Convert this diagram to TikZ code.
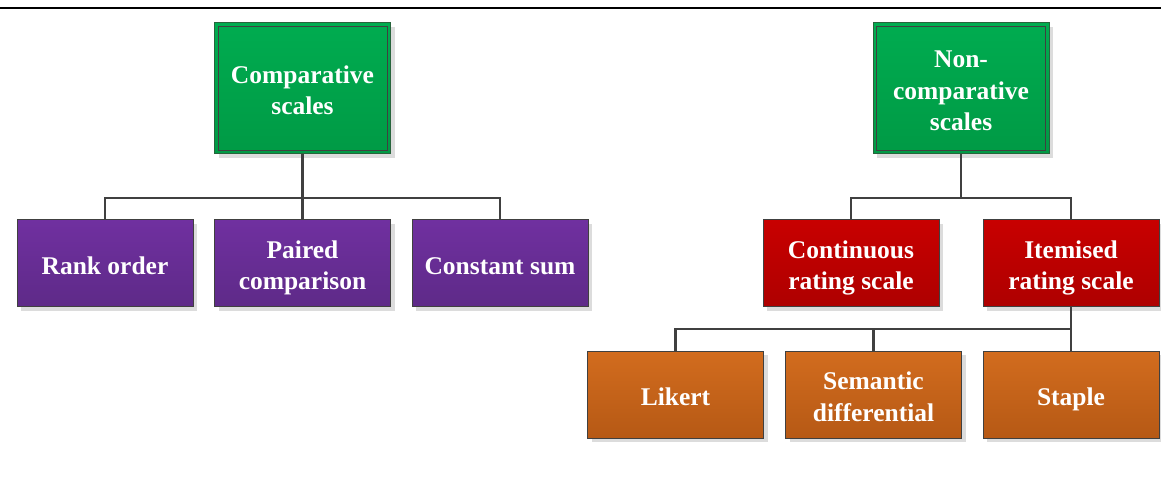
\documentclass[tikz,border=0pt]{standalone}
\usepackage{fontspec}
\setmainfont{Liberation Serif}
\usetikzlibrary{shadows}
\definecolor{edge}{HTML}{404040}
\definecolor{greenT}{HTML}{00AC50}
\definecolor{greenB}{HTML}{009A45}
\definecolor{purpleT}{HTML}{7030A0}
\definecolor{purpleB}{HTML}{5E2A88}
\definecolor{redT}{HTML}{C80000}
\definecolor{redB}{HTML}{AE0000}
\definecolor{orangeT}{HTML}{D26C1E}
\definecolor{orangeB}{HTML}{B65915}
\definecolor{shade}{HTML}{DCDCDC}
\definecolor{greenedge}{HTML}{28643C}
% box caption: centred lines of zero footprint, set a little below the middle of the box
\newcommand\boxcaption[1]{\raisebox{-11pt}[0pt][0pt]{\begin{tabular}{@{}c@{}}#1\end{tabular}}}
\tikzset{
  box/.style={draw=edge, line width=1pt, inner sep=0pt,
    text=white, font=\bfseries\fontsize{25.5}{31.6}\selectfont,
    minimum width=176pt, minimum height=87pt,
    drop shadow={shadow xshift=4pt, shadow yshift=-4pt, fill=shade, opacity=1}},
  headbox/.style={box, minimum height=131pt, draw=greenedge,
    top color=greenT, bottom color=greenB},
  purplebox/.style={box, top color=purpleT, bottom color=purpleB},
  redbox/.style={box, top color=redT, bottom color=redB},
  orangebox/.style={box, top color=orangeT, bottom color=orangeB},
  innerline/.style={draw=edge, line width=1pt},
  conn/.style={draw=edge, line width=2.5pt},
}
\begin{document}
\begin{tikzpicture}[x=1pt, y=-1pt]
\useasboundingbox (0,0) rectangle (1161,477);
% rule across the top
\coordinate (ruleL) at (0,8);
\coordinate (ruleR) at (1161,8);
\draw[line width=2pt, black] (ruleL) -- (ruleR);

% bus levels
\coordinate (busA) at (0,198);
\coordinate (busB) at (0,329);

% comparative branch
\node[headbox] (comp) at (302.5,88) {\boxcaption{Comparative\\scales}};
\node[purplebox] (rank) at (105,263) {\boxcaption{Rank order}};
\node[purplebox] (paired) at (302.5,263) {\boxcaption{Paired\\comparison}};
\node[purplebox] (const) at (500,263) {\boxcaption{Constant sum}};

% non-comparative branch
\node[headbox] (noncomp) at (961,88) {\boxcaption{Non-\\comparative\\scales}};
\node[redbox] (cont) at (851,263) {\boxcaption{Continuous\\rating scale}};
\node[redbox] (item) at (1071,263) {\boxcaption{Itemised\\rating scale}};
\node[orangebox] (likert) at (675.5,394.5) {\boxcaption{Likert}};
\node[orangebox] (sem) at (873.5,394.5) {\boxcaption{Semantic\\differential}};
\node[orangebox] (staple) at (1071,394.5) {\boxcaption{Staple}};

% inner frames of the header boxes
\draw[innerline] ([shift={(4pt,-4pt)}]comp.north west) rectangle ([shift={(-4pt,4pt)}]comp.south east);
\draw[innerline] ([shift={(4pt,-4pt)}]noncomp.north west) rectangle ([shift={(-4pt,4pt)}]noncomp.south east);

% connectors
\draw[conn] (comp.south) -- (comp.south |- busA) -| (rank.north);
\draw[conn] (comp.south |- busA) -| (const.north);
\draw[conn] (comp.south) -- (paired.north);

\draw[conn] (noncomp.south) -- (noncomp.south |- busA) -| (cont.north);
\draw[conn] (noncomp.south |- busA) -| (item.north);

\draw[conn] (item.south) -- (item.south |- busB) -| (likert.north);
\draw[conn] (item.south |- busB) -| (sem.north);
\draw[conn] (item.south |- busB) -- (staple.north);
\end{tikzpicture}
\end{document}
